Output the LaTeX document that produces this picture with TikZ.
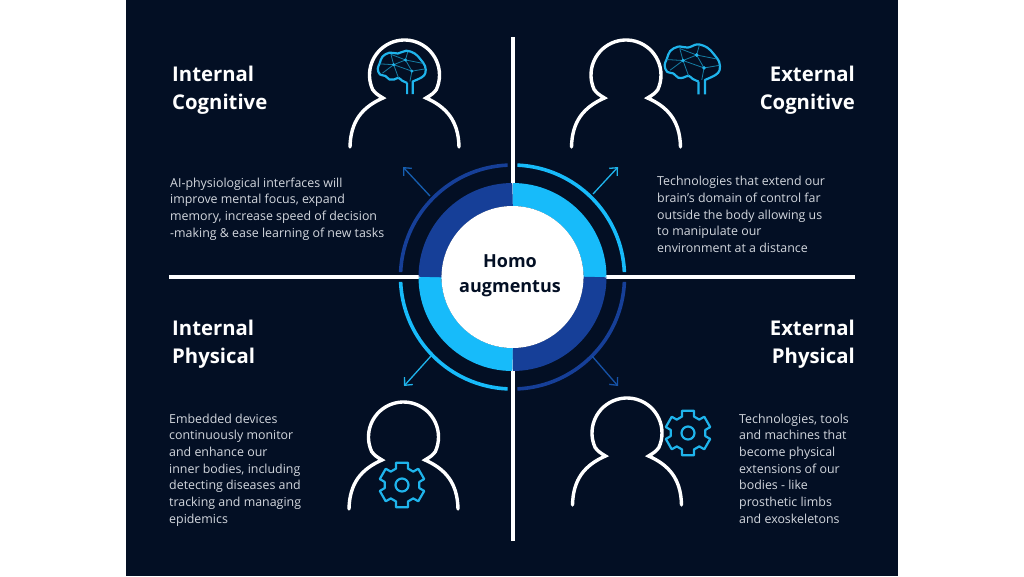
\documentclass[tikz,border=0pt]{standalone}
\usepackage{fontspec}
\setmainfont{Open Sans}
\usetikzlibrary{arrows.meta}
\definecolor{panel}{HTML}{030F24}
\definecolor{lightb}{HTML}{17BBFA}
\definecolor{darkb}{HTML}{163F98}
\definecolor{iconb}{HTML}{1FB4EC}
\definecolor{bodyt}{HTML}{D3D7DE}
\tikzset{
  headline/.style={text=white,inner sep=0pt,font=\fontsize{20.3}{28}\selectfont\bfseries},
  bodytext/.style={text=bodyt,inner sep=0pt,align=left,font=\fontsize{12.4}{16.7}\selectfont},
  hubtext/.style={text=panel,inner sep=0pt,align=center,font=\fontsize{18}{25}\selectfont\bfseries},
  axis/.style={white,line width=3.2pt},
  figure/.style={white,line width=3.4pt,line cap=round,line join=miter,miter limit=10},
  icon/.style={iconb,line width=2.2pt,line join=round},
  thinline/.style={iconb!70!black,line width=0.8pt},
  pointer/.style={-{Straight Barb[length=6pt,width=11pt]},line width=1.3pt},
}
\newcommand{\personfig}[2]{%
  \begin{scope}[shift={(#1,#2)}]
    \draw[figure] (-54.5,72) .. controls (-54,46) and (-42,32) .. (-21.5,23)
      .. controls (-28,19) .. (155:35) arc[start angle=155,end angle=385,radius=35]
      .. controls (28,19) .. (21.5,23)
      .. controls (42,32) and (54,46) .. (54.5,72);
  \end{scope}}
\newcommand{\gearfig}[2]{%
  \begin{scope}[shift={(#1,#2)}]
    \draw[icon] (250:17.5) \foreach \a in {270,330,390,450,510,570}{
      -- (\a-15:23) -- (\a+15:23) -- (\a+20:17.5) -- (\a+40:17.5)} -- cycle;
    \draw[icon] (0,0) circle (6.5);
  \end{scope}}
\newcommand{\brainfig}[3]{%
  \begin{scope}[shift={(#1,#2)},scale=#3/3]
    \draw[icon] (113,170) -- (113,130) plot[smooth,tension=0.6] coordinates {(113,130) (95,122) (82,112) (66,118) (50,118) (35,105) (16,100) (8,80) (15,60) (25,36) (50,22) (80,25) (110,15) (140,25) (160,45) (177,70) (178,95) (165,110) (133,125)} -- (133,170);
    \draw[thinline] (55,28) -- (65,65) -- (107,48) -- (130,88) -- (65,65) -- (25,95);
    \draw[thinline] (65,65) -- (82,112) (107,48) -- (115,20) (107,48) -- (168,60);
    \draw[thinline] (130,88) -- (177,80) (130,88) -- (123,125) (65,65) -- (15,62) (55,28) -- (107,48);
    \foreach \a/\b in {65/65,107/48,130/88}{\fill[iconb] (\a,\b) circle (6);}
  \end{scope}}
\begin{document}
\begin{tikzpicture}[x=1pt,y=1pt,yscale=-1]
\useasboundingbox (0,0) rectangle (1024,576);
\fill[white] (0,0) rectangle (1024,576);
\fill[panel] (126,0) rectangle (898,576);
\coordinate (c) at (512.5,277);
\coordinate (vt) at (513,37); \coordinate (vb) at (513,541);
\coordinate (hl) at (169,277); \coordinate (hr) at (855,277);
\draw[axis] (vt) -- (vb); \draw[axis] (hl) -- (hr);
% rings
\foreach \s/\e/\col in {270/360/lightb,0/90/darkb,90/180/lightb,180/270/darkb}{
  \draw[\col,line width=23pt] (c) ++(\s:82.5) arc[start angle=\s,end angle=\e,radius=82.5];}
\foreach \s/\e/\col in {272.5/357.5/lightb,2.5/87.5/darkb,92.5/177.5/lightb,182.5/267.5/darkb}{
  \draw[\col,line width=3.6pt] (c) ++(\s:112) arc[start angle=\s,end angle=\e,radius=112];}
\node[circle,fill=white,minimum size=142pt,inner sep=0pt] (hub) at (c) {};
\node[hubtext] (hubt) at (510,276) {Homo\\augmentus};
% pointers
\coordinate (a1) at (430,196); \coordinate (a2) at (403,167);
\coordinate (b1) at (593,194); \coordinate (b2) at (618,167);
\coordinate (d1) at (431,356); \coordinate (d2) at (404,386);
\coordinate (e1) at (592,356); \coordinate (e2) at (618,386);
\draw[pointer,darkb!75!lightb] (a1) -- (a2);
\draw[pointer,iconb] (b1) -- (b2);
\draw[pointer,iconb] (d1) -- (d2);
\draw[pointer,darkb!85!lightb] (e1) -- (e2);
% figures
\personfig{404.5}{75}
\personfig{626}{75}
\personfig{403.5}{437}
\personfig{627}{433}
\brainfig{375.5}{46.5}{0.84}
\brainfig{662}{39.5}{0.97}
\gearfig{402}{485}
\gearfig{688}{433}
% headings
\node[headline,anchor=north west,align=left] (t1) at (172,66) {Internal\\Cognitive};
\node[headline,anchor=north east,align=right] (t2) at (855,66) {External\\Cognitive};
\node[headline,anchor=north west,align=left] (t3) at (172,320) {Internal\\Physical};
\node[headline,anchor=north east,align=right] (t4) at (855,320) {External\\Physical};
% texts
\node[bodytext,anchor=north west] (p1) at (170,177.5) {AI-physiological interfaces will\\improve mental focus, expand\\memory, increase speed of decision\\-making \& ease learning of new tasks};
\node[bodytext,anchor=north west] (p2) at (657,176) {Technologies that extend our\\brain’s domain of control far\\outside the body allowing us\\to manipulate our\\environment at a distance};
\node[bodytext,anchor=north west] (p3) at (169,413.5) {Embedded devices\\continuously monitor\\and enhance our\\inner bodies, including\\detecting diseases and\\tracking and managing\\epidemics};
\node[bodytext,anchor=north west] (p4) at (739,413.5) {Technologies, tools\\and machines that\\become physical\\extensions of our\\bodies - like\\prosthetic limbs\\and exoskeletons};
\end{tikzpicture}
\end{document}
